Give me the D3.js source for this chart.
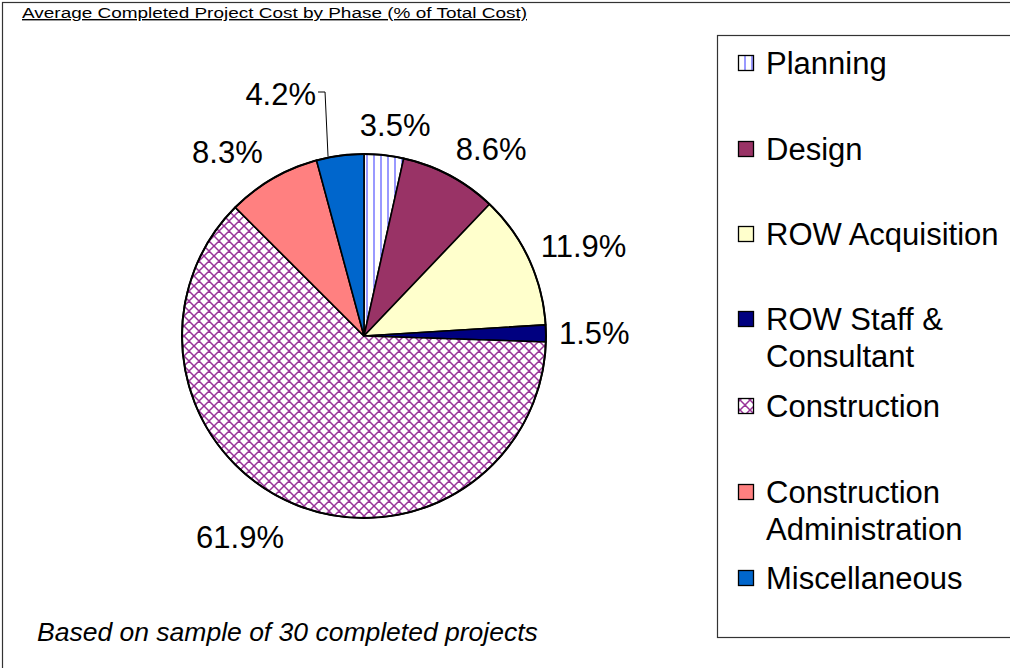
<!DOCTYPE html>
<html>
<head>
<meta charset="utf-8">
<script src="https://cdn.jsdelivr.net/npm/d3@7"></script>
<style>
  body { margin: 0; background: #fff; }
  svg { display: block; font-family: "Liberation Sans", Arial, sans-serif; }
</style>
</head>
<body>
<svg id="chart" width="1010" height="668"></svg>
<script>
// data
let phases = ["Planning", "Design", "ROW Acquisition", "ROW Staff & Consultant",
              "Construction", "Construction Administration", "Miscellaneous"]
let shares = [3.5, 8.6, 11.9, 1.5, 61.9, 8.3, 4.2]
let legendLines = [["Planning"], ["Design"], ["ROW Acquisition"], ["ROW Staff &", "Consultant"],
                   ["Construction"], ["Construction", "Administration"], ["Miscellaneous"]]
let fills = ["url(#stripes)", "#993366", "#FFFFCC", "#000080", "url(#hatch)", "#FF8080", "#0066CC"]

let width = 1010
let height = 668
let cx = 364, cy = 336, radius = 182

let svg = d3.select("#chart")

// patterns
let defs = svg.append("defs")
let stripes = defs.append("pattern")
    .attr("id", "stripes")
    .attr("patternUnits", "userSpaceOnUse")
    .attr("width", 7).attr("height", 7)
stripes.append("rect").attr("width", 7).attr("height", 7).attr("fill", "#fff")
stripes.append("rect").attr("x", 2).attr("width", 2).attr("height", 7).attr("fill", "#9999FF")

let hatch = defs.append("pattern")
    .attr("id", "hatch")
    .attr("patternUnits", "userSpaceOnUse")
    .attr("width", 10).attr("height", 10)
hatch.append("rect").attr("width", 10).attr("height", 10).attr("fill", "#fff")
hatch.append("path")
    .attr("d", "M0,0 L10,10 M10,0 L0,10 M-5,5 L5,15 M5,-5 L15,5 M-5,5 L5,-5 M5,15 L15,5")
    .attr("stroke", "#993399")
    .attr("stroke-width", 1.5)
    .attr("fill", "none")

// outer frame
svg.append("rect")
    .attr("x", 2.5).attr("y", 2.5)
    .attr("width", width + 10).attr("height", height + 10)
    .attr("fill", "none").attr("stroke", "#333").attr("stroke-width", 1.2)

// title
svg.append("text")
    .attr("x", 22).attr("y", 18)
    .attr("font-size", 14)
    .attr("textLength", 505)
    .attr("lengthAdjust", "spacingAndGlyphs")
    .style("text-decoration", "underline")
    .text("Average Completed Project Cost by Phase (% of Total Cost)")

// pie
let pie = d3.pie().sort(null).value(d => d)
let arcs = pie(shares)
let arc = d3.arc().innerRadius(0).outerRadius(radius)

let g = svg.append("g").attr("transform", "translate(" + cx + "," + cy + ")")

g.selectAll("path.slice")
    .data(arcs)
    .enter()
    .append("path")
    .attr("class", "slice")
    .attr("d", arc)
    .attr("fill", (d, i) => fills[i])
    .attr("stroke", "#000")
    .attr("stroke-width", 1.6)
    .attr("stroke-linejoin", "round")

g.append("circle").attr("r", radius).attr("fill", "none").attr("stroke", "#000").attr("stroke-width", 2)

// data labels
let labelSize = 31
let fmt = d => d3.format(".1f")(d) + "%"
arcs.forEach((d, i) => {
    let mid = (d.startAngle + d.endAngle) / 2
    let s = Math.sin(mid), c = Math.cos(mid)
    let label = g.append("text")
        .attr("font-size", labelSize)
        .attr("dominant-baseline", "central")
        .text(fmt(d.data))
    let w = label.node().getComputedTextLength()
    if (phases[i] == "Miscellaneous") {
        // moved up with a leader line
        let ex = radius * s, ey = -radius * c
        let ly = -radius - 62
        g.append("path")
            .attr("d", "M" + (ex - 12) + "," + (ey + 1) + " L" + (ex - 15) + "," + ly + " L" + (ex - 22) + "," + ly)
            .attr("fill", "none").attr("stroke", "#000").attr("stroke-width", 1)
        label.attr("text-anchor", "end").attr("x", ex - 24).attr("y", ly + 2)
        return
    }
    let xr = s > 0 ? 195 : 202
    let px = xr * s, py = -200 * c
    let k = Math.max(-1, Math.min(1, s * 2.5))
    label.attr("text-anchor", "middle")
        .attr("x", px + k * w / 2)
        .attr("y", py - c * 12 + Math.max(0, -c) * 8)
})

// legend
svg.append("rect")
    .attr("x", 717.5).attr("y", 35.5)
    .attr("width", 310).attr("height", 602)
    .attr("fill", "#fff").attr("stroke", "#333").attr("stroke-width", 1.2)

let legendY = [63, 149, 234, 319, 406, 492, 578]
let legend = svg.append("g")
legendLines.forEach((lines, i) => {
    legend.append("rect")
        .attr("x", 738.5).attr("y", legendY[i] - 7.5)
        .attr("width", 15).attr("height", 15)
        .attr("fill", fills[i]).attr("stroke", "#000").attr("stroke-width", 1.3)
    lines.forEach((t, j) => {
        legend.append("text")
            .attr("x", 766).attr("y", legendY[i] + j * 37.5)
            .attr("dominant-baseline", "central")
            .attr("font-size", 31)
            .text(t)
    })
})

// footnote
svg.append("text")
    .attr("x", 37).attr("y", 632)
    .attr("dominant-baseline", "central")
    .attr("font-size", 26.5)
    .attr("font-style", "italic")
    .text("Based on sample of 30 completed projects")
</script>
</body>
</html>
